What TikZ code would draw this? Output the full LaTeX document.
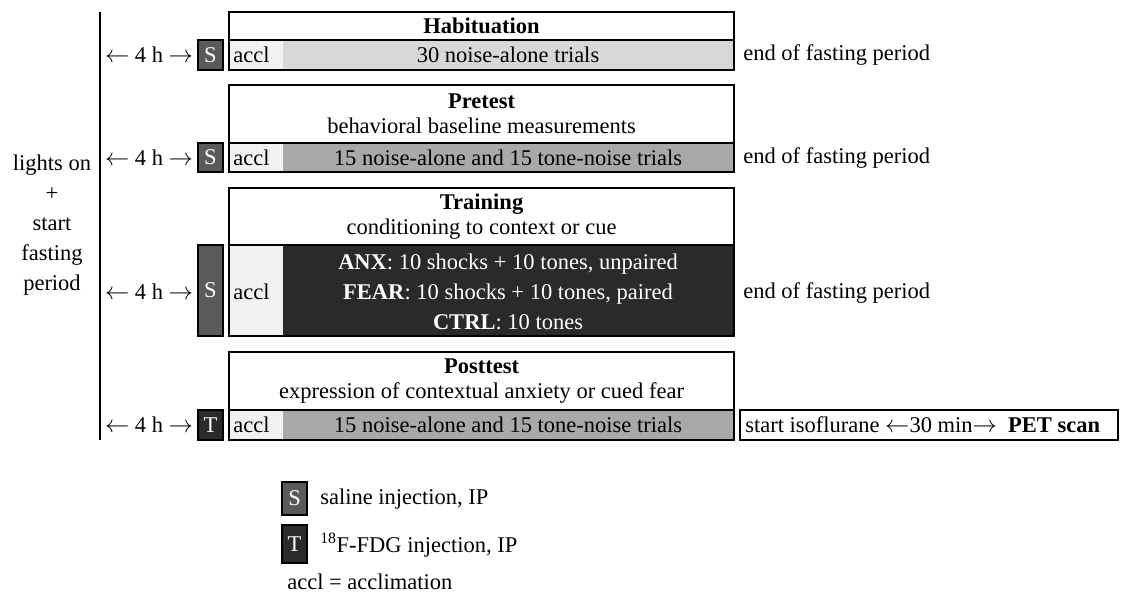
\documentclass[tikz,border=0pt]{standalone}
\usepackage{fontspec}
\setmainfont{Liberation Serif}
\usetikzlibrary{positioning}
\definecolor{habgray}{HTML}{D8D8D8}
\definecolor{testgray}{HTML}{A9A9A9}
\definecolor{traindark}{HTML}{2A2A2A}
\definecolor{acclgray}{HTML}{F1F1F1}
\definecolor{salinegray}{HTML}{5A5A5A}
\definecolor{tracerdark}{HTML}{2A2A2A}
\newcommand{\fourh}{$\leftarrow$ 4 h $\rightarrow$}
\tikzset{
  frame/.style={draw, line width=1.2pt, inner sep=0pt, outer sep=0pt, anchor=north west},
  headbox/.style={frame, fill=white, align=center, minimum width=12.625cm},
  trialbar/.style={frame, fill=#1, minimum width=12.625cm,
    path picture={\fill[acclgray] (path picture bounding box.north west)
      rectangle ([xshift=1.35cm]path picture bounding box.south west);}},
  injbox/.style={frame, minimum width=0.625cm, text=white},
  acclnote/.style={anchor=west},
  fastend/.style={anchor=west},
}
\begin{document}
\begin{tikzpicture}[x=0.025cm, y=-0.025cm,
  every node/.append style={font=\fontsize{16}{17.8}\selectfont, inner sep=0pt}]
\useasboundingbox (0,0) rectangle (1123,602);
% time line
\coordinate (linetop) at (100,12);
\coordinate (linebot) at (100,440);
\draw[line width=1.2pt] (linetop) -- (linebot);
\node[align=center, font=\fontsize{16}{21.3}\selectfont] (lights) at (52,225) {lights on\\+\\start\\fasting\\period};

% habituation
\node[headbox, minimum height=0.7cm] (habhead) at (229,12) {\textbf{Habituation}};
\node[trialbar=habgray, minimum height=0.75cm] (habbar) at (229,40) {};
\node[acclnote] (habaccl) at (233,55) {accl};
\node (habtrials) at (508,55) {30 noise-alone trials};
\node[injbox, fill=salinegray, minimum height=0.75cm] (habinj) at (198,40) {S};
\node (habdelay) at (149,55) {\fourh};
\node[fastend] (habend) at (743,55) {end of fasting period};

% pretest
\node[headbox, minimum height=1.45cm] (prehead) at (229,85) {\textbf{Pretest}\\behavioral baseline measurements};
\node[trialbar=testgray, minimum height=0.725cm] (prebar) at (229,143) {};
\node[acclnote] (preaccl) at (233,158) {accl};
\node (pretrials) at (508,158) {15 noise-alone and 15 tone-noise trials};
\node[injbox, fill=salinegray, minimum height=0.725cm] (preinj) at (198,143) {S};
\node (predelay) at (149,158) {\fourh};
\node[fastend] (preend) at (743,158) {end of fasting period};

% training
\node[headbox, minimum height=1.425cm] (trainhead) at (229,188) {\textbf{Training}\\conditioning to context or cue};
\node[trialbar=traindark, minimum height=2.275cm] (trainbar) at (229,245) {};
\node[acclnote] (trainaccl) at (233,292) {accl};
\node[align=center, text=white, font=\fontsize{16}{21.3}\selectfont] (traingroups) at (508,292)
  {\textbf{ANX}: 10 shocks + 10 tones, unpaired\\\textbf{FEAR}: 10 shocks + 10 tones, paired\\\textbf{CTRL}: 10 tones};
\node[injbox, fill=salinegray, minimum height=2.275cm] (traininj) at (198,245) {S};
\node (traindelay) at (149,292) {\fourh};
\node[fastend] (trainend) at (743,293) {end of fasting period};

% posttest
\node[headbox, minimum height=1.45cm] (posthead) at (229,352) {\textbf{Posttest}\\expression of contextual anxiety or cued fear};
\node[trialbar=testgray, minimum height=0.75cm] (postbar) at (229,410) {};
\node[acclnote] (postaccl) at (233,425) {accl};
\node (posttrials) at (508,425) {15 noise-alone and 15 tone-noise trials};
\node[injbox, fill=tracerdark, minimum height=0.75cm] (postinj) at (198,410) {T};
\node (postdelay) at (149,425) {\fourh};
\node[frame, minimum width=9.45cm, minimum height=0.75cm] (petbox) at (740,410) {};
\node[anchor=west] (pettxt) at (745,425) {start isoflurane $\leftarrow$30 min$\rightarrow$\ \ \textbf{PET scan}};

% legend
\node[injbox, fill=salinegray, minimum height=0.825cm] (legsaline) at (282,482) {S};
\node[anchor=west] (legsalinetxt) at (320,499) {saline injection, IP};
\node[injbox, fill=tracerdark, minimum height=0.95cm] (legtracer) at (282,525) {T};
\node[anchor=west] (legtracertxt) at (320,545) {\textsuperscript{18}F-FDG injection, IP};
\node[anchor=west] (legaccl) at (287,582) {accl = acclimation};
\end{tikzpicture}
\end{document}
